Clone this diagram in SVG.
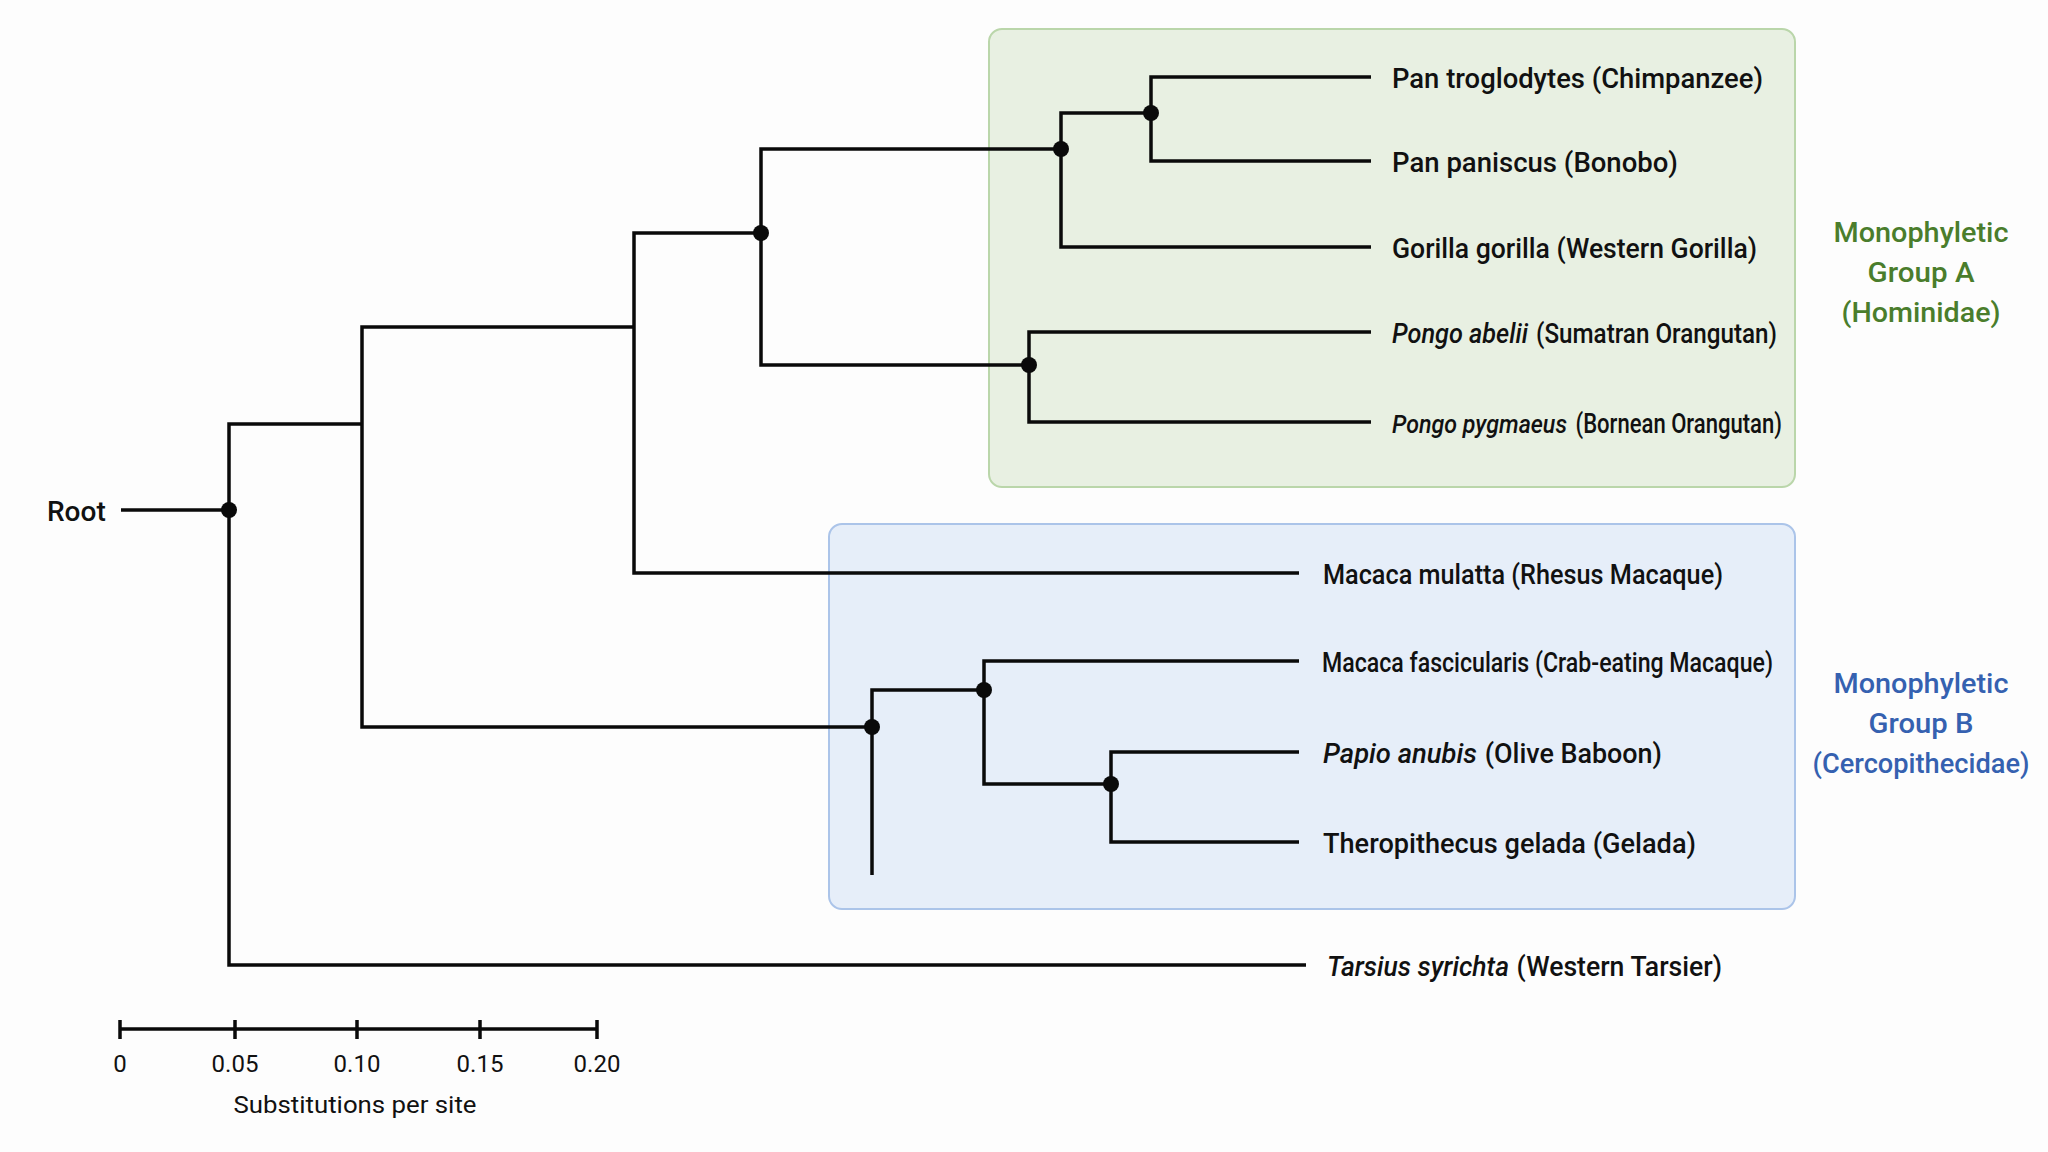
<svg xmlns="http://www.w3.org/2000/svg" width="2048" height="1152" viewBox="0 0 2048 1152">
<style>
.br{fill:none;stroke:#0a0a0a;stroke-width:3.5;stroke-linejoin:miter;stroke-linecap:butt}
.dot{fill:#0a0a0a}
.leaf{font-family:Roboto,"Liberation Sans",sans-serif;font-size:28px;font-weight:500;fill:#111}
.it{font-style:italic}
.grpA{font-family:Roboto,"Liberation Sans",sans-serif;font-size:28px;font-weight:500;fill:#4a7d2c;text-anchor:middle}
.grpB{font-family:Roboto,"Liberation Sans",sans-serif;font-size:28px;font-weight:500;fill:#3561b0;text-anchor:middle}
.sc{font-family:Roboto,"Liberation Sans",sans-serif;font-size:24px;fill:#111;text-anchor:middle}
</style>
<rect width="2048" height="1152" fill="#fdfdfd"/>
<g id="groupA-box"><rect x="989" y="29" width="806" height="458" rx="13" fill="#e8f0e2" stroke="#bad6aa" stroke-width="2"/></g>
<g id="groupB-box"><rect x="829" y="524" width="966" height="385" rx="13" fill="#e6eef9" stroke="#abc4e9" stroke-width="2"/></g>

<g id="connectors">
<path class="br" d="M121 510 H229"/>
<path class="br" d="M362 424 H229 V965 H1306"/>
<path class="br" d="M634 327 H362 V727 H872"/>
<path class="br" d="M761 233 H634 V573 H1299"/>
<path class="br" d="M1061 149 H761 V365 H1029"/>
<path class="br" d="M1151 113 H1061 V247 H1371"/>
<path class="br" d="M1371 77 H1151 V161 H1371"/>
<path class="br" d="M1371 332 H1029 V422 H1371"/>
<path class="br" d="M984 690 H872 V875"/>
<path class="br" d="M1299 661 H984 V784 H1111"/>
<path class="br" d="M1299 752 H1111 V842 H1299"/>
</g>

<g id="internal-nodes">
<circle class="dot" cx="229" cy="510" r="8"/>
<circle class="dot" cx="761" cy="233" r="8"/>
<circle class="dot" cx="1061" cy="149" r="8"/>
<circle class="dot" cx="1151" cy="113" r="8"/>
<circle class="dot" cx="1029" cy="365" r="8"/>
<circle class="dot" cx="872" cy="727" r="8"/>
<circle class="dot" cx="984" cy="690" r="8"/>
<circle class="dot" cx="1111" cy="784" r="8"/>
</g>

<g id="root"><text class="leaf" x="47" y="521" font-size="30">Root</text></g>
<g id="pan-troglodytes"><text class="leaf" x="1392" y="88" textLength="371" lengthAdjust="spacingAndGlyphs">Pan troglodytes (Chimpanzee)</text></g>
<g id="pan-paniscus"><text class="leaf" x="1392" y="172" textLength="286" lengthAdjust="spacingAndGlyphs">Pan paniscus (Bonobo)</text></g>
<g id="gorilla"><text class="leaf" x="1392" y="258" textLength="365" lengthAdjust="spacingAndGlyphs">Gorilla gorilla (Western Gorilla)</text></g>
<g id="pongo-abelii"><text class="leaf" x="1392" y="343"><tspan class="it" textLength="136" lengthAdjust="spacingAndGlyphs">Pongo abelii</tspan><tspan x="1530" textLength="247" lengthAdjust="spacingAndGlyphs"> (Sumatran Orangutan)</tspan></text></g>
<g id="pongo-pygmaeus"><text class="leaf" x="1392" y="433"><tspan class="it" font-size="26" textLength="175" lengthAdjust="spacingAndGlyphs">Pongo pygmaeus</tspan><tspan x="1570" textLength="212" lengthAdjust="spacingAndGlyphs"> (Bornean Orangutan)</tspan></text></g>
<g id="macaca-mulatta"><text class="leaf" x="1323" y="584" textLength="400" lengthAdjust="spacingAndGlyphs">Macaca mulatta (Rhesus Macaque)</text></g>
<g id="macaca-fascicularis"><text class="leaf" x="1322" y="672" textLength="451" lengthAdjust="spacingAndGlyphs">Macaca fascicularis (Crab-eating Macaque)</text></g>
<g id="papio-anubis"><text class="leaf" x="1323" y="763"><tspan class="it" textLength="154" lengthAdjust="spacingAndGlyphs">Papio anubis</tspan><tspan x="1478" textLength="184" lengthAdjust="spacingAndGlyphs"> (Olive Baboon)</tspan></text></g>
<g id="theropithecus"><text class="leaf" x="1323" y="853" textLength="373" lengthAdjust="spacingAndGlyphs">Theropithecus gelada (Gelada)</text></g>
<g id="tarsius"><text class="leaf" x="1327" y="976"><tspan class="it" textLength="182" lengthAdjust="spacingAndGlyphs">Tarsius syrichta</tspan><tspan x="1510" textLength="212" lengthAdjust="spacingAndGlyphs"> (Western Tarsier)</tspan></text></g>

<g id="groupA-label">
<text class="grpA" x="1921" y="242" textLength="175" lengthAdjust="spacingAndGlyphs">Monophyletic</text>
<text class="grpA" x="1921" y="282" textLength="107" lengthAdjust="spacingAndGlyphs">Group A</text>
<text class="grpA" x="1921" y="322" textLength="159" lengthAdjust="spacingAndGlyphs">(Hominidae)</text>
</g>
<g id="groupB-label">
<text class="grpB" x="1921" y="693" textLength="175" lengthAdjust="spacingAndGlyphs">Monophyletic</text>
<text class="grpB" x="1921" y="733" textLength="105" lengthAdjust="spacingAndGlyphs">Group B</text>
<text class="grpB" x="1921" y="773" textLength="217" lengthAdjust="spacingAndGlyphs">(Cercopithecidae)</text>
</g>

<g id="scale-bar">
<path class="br" d="M120 1029 H597 M120 1020 V1039 M235 1020 V1039 M357 1020 V1039 M480 1020 V1039 M597 1020 V1039"/>
<text class="sc" x="120" y="1072">0</text>
<text class="sc" x="235" y="1072">0.05</text>
<text class="sc" x="357" y="1072">0.10</text>
<text class="sc" x="480" y="1072">0.15</text>
<text class="sc" x="597" y="1072">0.20</text>
<text class="sc" x="355" y="1113" font-size="26" textLength="243" lengthAdjust="spacingAndGlyphs">Substitutions per site</text>
</g>
</svg>
